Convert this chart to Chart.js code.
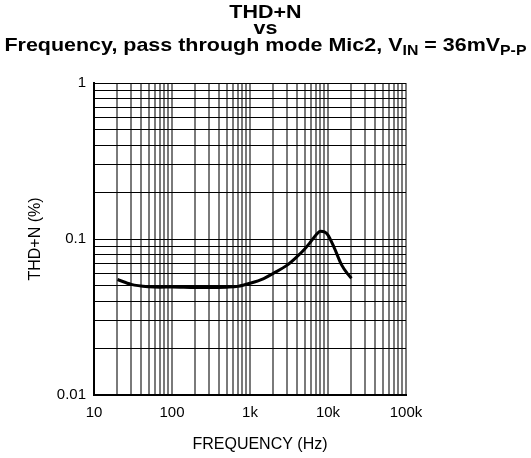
<!DOCTYPE html>
<html>
<head>
<meta charset="utf-8">
<script src="https://cdn.jsdelivr.net/npm/chart.js@4/dist/chart.umd.min.js"></script>
<style>
  html, body { margin: 0; padding: 0; background: #fff; }
  #wrap { position: relative; width: 531px; height: 458px; }
  #chart { position: absolute; left: 0; top: 0; }
  .ttl {
    position: absolute; left: 0; width: 531px; text-align: center;
    font: bold 19px "Liberation Sans", Arial, sans-serif; line-height: 19px;
    white-space: nowrap; color: #000;
    transform: scaleX(1.13); transform-origin: 266px 0;
  }
  .sub { font-size: 14px; position: relative; top: 4px; }
</style>
</head>
<body>
<div id="wrap">
  <canvas id="chart" width="531" height="458"></canvas>
  <div class="ttl" style="top:2px">THD+N</div>
  <div class="ttl" style="top:18px">vs</div>
  <div class="ttl" style="top:35px">Frequency, pass through mode Mic2, V<span class="sub">IN</span> = 36mV<span class="sub">P-P</span></div>
</div>
<script>
// curve
const freqHz = [20, 30, 50, 70, 100, 200, 300, 500, 700, 1000, 1500, 2000, 3000, 4000,
                5000, 6000, 7000, 8000, 9000, 10000, 12000, 15000, 18000, 20000];
const thdnPct = [0.055, 0.0512, 0.0494, 0.0491, 0.0492, 0.0488, 0.0488, 0.0491, 0.0497, 0.052,
                 0.0558, 0.0603, 0.068, 0.077, 0.086, 0.096, 0.106, 0.112, 0.111, 0.106,
                 0.088, 0.068, 0.0595, 0.056];

// grid lines / ticks
const xGrid = [10, 20, 30, 40, 50, 60, 70, 80, 90,
               100, 200, 300, 400, 500, 600, 700, 800, 900,
               1000, 2000, 3000, 4000, 5000, 6000, 7000, 8000, 9000,
               10000, 20000, 30000, 40000, 50000, 60000, 70000, 80000, 90000, 100000];
const xLabels = {10: '10', 100: '100', 1000: '1k', 10000: '10k', 100000: '100k'};
const yGrid = [0.01, 0.02, 0.03, 0.04, 0.05, 0.06, 0.07, 0.08, 0.09,
               0.1, 0.2, 0.3, 0.4, 0.5, 0.6, 0.7, 0.8, 0.9, 1];
const yLabels = {0.01: '0.01', 0.1: '0.1', 1: '1'};

const xTitle = 'FREQUENCY (Hz)';
const font = "'Liberation Sans', Arial, sans-serif";

// x axis title sits a bit right of the plot centre in the original
const xTitlePlugin = {
    id: 'xTitle',
    afterDraw(chart) {
        const ctx = chart.ctx;
        ctx.save();
        ctx.font = '16px ' + font;
        ctx.fillStyle = '#000';
        ctx.textAlign = 'center';
        ctx.textBaseline = 'middle';
        const a = chart.chartArea;
        ctx.fillText(xTitle, (a.left + a.right) / 2 + 10, 445);
        ctx.restore();
    }
};

new Chart(document.getElementById('chart'), {
    type: 'line',
    data: {
        datasets: [{
            data: freqHz.map((f, i) => ({x: f, y: thdnPct[i]})),
            borderColor: '#000',
            borderWidth: 3,
            pointRadius: 0,
            cubicInterpolationMode: 'monotone',
            fill: false
        }]
    },
    options: {
        responsive: false,
        animation: false,
        layout: { padding: { top: 83, right: 125, left: 0, bottom: 0 } },
        plugins: { legend: { display: false }, tooltip: { enabled: false } },
        scales: {
            x: {
                type: 'logarithmic',
                min: 10, max: 100000,
                afterBuildTicks: s => { s.ticks = xGrid.map(v => ({value: v})); },
                afterFit: s => { s.height = 63; },
                ticks: {
                    autoSkip: false, maxRotation: 0, padding: 9, color: '#000',
                    font: { family: font, size: 15 },
                    callback: v => xLabels[v] || ''
                },
                grid: { color: '#7a7a7a', lineWidth: 2, drawTicks: false },
                border: { color: '#000', width: 2 }
            },
            y: {
                type: 'logarithmic',
                min: 0.01, max: 1,
                afterBuildTicks: s => { s.ticks = yGrid.map(v => ({value: v})); },
                afterFit: s => { s.width = 94; },
                ticks: {
                    autoSkip: false, padding: 8, color: '#000',
                    font: { family: font, size: 15 },
                    callback: v => yLabels[v] || ''
                },
                grid: { color: '#000', lineWidth: 1, drawTicks: false },
                border: { color: '#000', width: 2 },
                title: {
                    display: true, text: 'THD+N (%)', color: '#000',
                    font: { family: font, size: 16 }, padding: { top: 26, bottom: 0 }
                }
            }
        }
    },
    plugins: [xTitlePlugin]
});
</script>
</body>
</html>
